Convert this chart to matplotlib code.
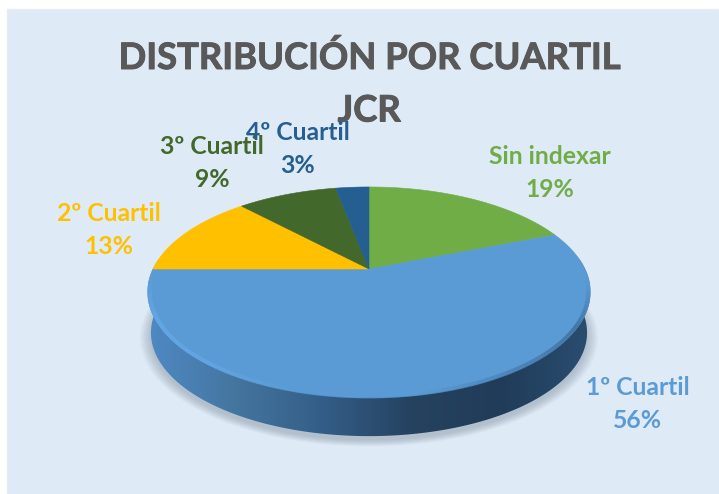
import numpy as np
import matplotlib
matplotlib.use("Agg")
import matplotlib.pyplot as plt
import matplotlib.patheffects as pe
from matplotlib.collections import LineCollection
from matplotlib.colors import LinearSegmentedColormap
from matplotlib.patches import Rectangle

# data
names = ["Sin indexar", "1º Cuartil", "2º Cuartil", "3º Cuartil", "4º Cuartil"]
shares = [19, 56, 13, 9, 3]
title_lines = ["DISTRIBUCIÓN POR CUARTIL", "JCR"]

slice_colors = ["#70ad47", "#5b9bd5", "#ffc000", "#43682b", "#255e91"]
label_pos = [(550, 173), (638, 404), (109, 230), (212, 163), (298, 149)]

# pie geometry, in pixels of the picture
apex_x, apex_y = 369, 269
semi_x, semi_y, tilt = 216, 100, 0.219
depth = 41

plt.rcParams["font.family"] = ["Lato", "DejaVu Sans"]
plt.rcParams["font.weight"] = "bold"


def project(theta, scale=1.0, drop=0.0):
    # clockwise from the top of the disc, with a perspective tilt
    u, v = np.sin(theta), np.cos(theta)
    w = 1 + tilt * v
    return apex_x + scale * semi_x * u / w, apex_y + drop - scale * semi_y * v / w


fig = plt.figure(figsize=(7.19, 4.94), dpi=100, facecolor="white")
ax = fig.add_axes([0, 0, 1, 1])
ax.set_xlim(0, 719)
ax.set_ylim(494, 0)
ax.axis("off")

ax.add_patch(Rectangle((7, 9), 712, 485, fc="#deeaf6", ec="#e8edf3", lw=1, zorder=0))

# soft shadow under the disc
full = np.linspace(0, 2 * np.pi, 200)
for grow in np.linspace(1.035, 0.985, 12):
    sx, sy = project(full, grow, depth + 4)
    ax.fill(sx, sy, color="#5f6f80", alpha=0.03, lw=0, zorder=1)

# side wall with its horizontal gradient
side_cmap = LinearSegmentedColormap.from_list(
    "side", ["#4f89c4", "#44759f", "#335d86", "#25425f", "#203c59", "#2a4d70"])
low = np.linspace(np.pi / 2 - 0.25, 3 * np.pi / 2 + 0.25, 150)
tx, ty = project(low)
bx, by = project(low[::-1], 0.985, depth)
wall = ax.fill(np.r_[tx, bx], np.r_[ty, by], color="none", lw=0, zorder=2)[0]
grad = ax.imshow(np.linspace(0, 1, 256)[None, :], cmap=side_cmap, aspect="auto",
                 extent=(148, 590, 450, 260), zorder=2)
grad.set_clip_path(wall)
ax.set_xlim(0, 719)
ax.set_ylim(494, 0)

# top face, one wedge per share
edges = np.cumsum([0] + shares) / sum(shares) * 2 * np.pi
for i in range(len(shares)):
    arc = np.linspace(edges[i], edges[i + 1], 120)
    x, y = project(arc)
    ax.fill(np.r_[apex_x, x], np.r_[apex_y, y], color=slice_colors[i],
            lw=0.4, ec=slice_colors[i], zorder=3)

# bevel along the front rim, dark at right and light at left, fading out at both ends
rim = np.linspace(np.pi / 2 + 0.1, 3 * np.pi / 2 - 0.02, 200)
rx, ry = project(rim, 0.99, 0.5)
pts = np.column_stack([rx, ry]).reshape(-1, 1, 2)
segs = np.concatenate([pts[:-1], pts[1:]], axis=1)
rim_cmap = LinearSegmentedColormap.from_list(
    "rim", ["#5b9bd5", "#3f71a0", "#4a80b5", "#5b9bd5", "#5b9bd5", "#63a6e4", "#64a8e8", "#5b9bd5"])
lc = LineCollection(segs, cmap=rim_cmap, lw=3, alpha=0.9, zorder=4, capstyle="butt")
lc.set_array(np.linspace(0, 1, len(segs)))
ax.add_collection(lc)

# text, thickened a little because Lato bold is lighter than the original face
ax.text(369, 58, title_lines[0], color="#595959", fontsize=26.2, ha="center", va="center",
        zorder=6, path_effects=[pe.withStroke(linewidth=0.7, foreground="#595959")])
ax.text(369, 111, title_lines[1], color="#595959", fontsize=26.2, ha="center", va="center",
        zorder=6, path_effects=[pe.withStroke(linewidth=0.7, foreground="#595959")])
for name, share, col, (px, py) in zip(names, shares, slice_colors, label_pos):
    ax.text(px, py, f"{name}\n{share}%", color=col, fontsize=17.8, ha="center", va="center",
            linespacing=1.48, zorder=7)

fig.savefig("out.png", dpi=100)
